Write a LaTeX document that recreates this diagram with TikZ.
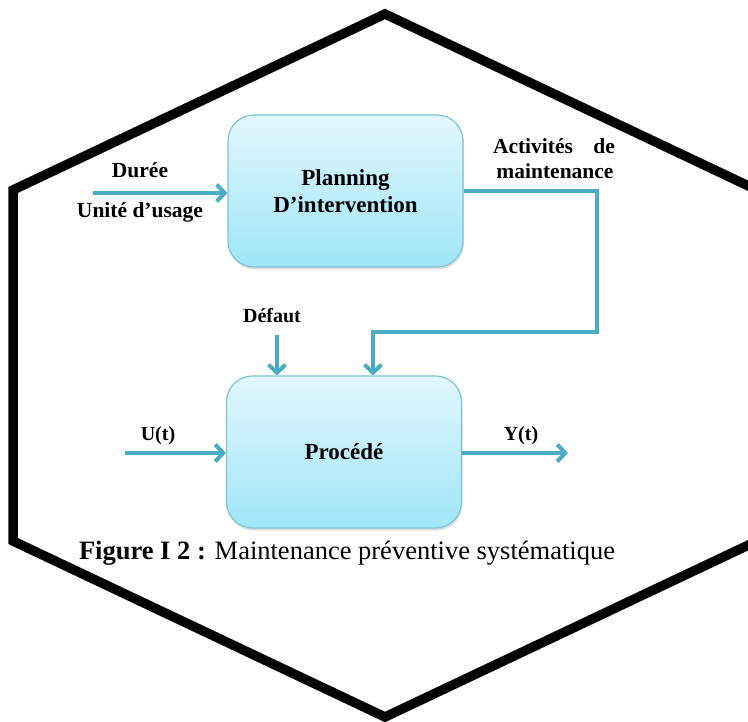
\documentclass[tikz,border=0pt]{standalone}
\usepackage{fontspec}
\setmainfont{Liberation Serif}
\usetikzlibrary{arrows.meta,shadows}
\definecolor{arr}{HTML}{4BACC6}
\definecolor{boxtop}{HTML}{E2F7FD}
\definecolor{boxbot}{HTML}{9FE6F9}
\definecolor{boxline}{HTML}{7CC5DA}
\tikzset{
  procbox/.style={rectangle, rounded corners=26pt, minimum width=235pt, minimum height=152pt,
    top color=boxtop, bottom color=boxbot, draw=boxline, line width=1.2pt,
    drop shadow={opacity=0.25, shadow xshift=1pt, shadow yshift=-2.5pt},
    align=center, font=\fontsize{23}{27}\selectfont\bfseries},
  flow/.style={draw=arr, line width=4pt, line join=miter},
  flowarrow/.style={flow, -{Straight Barb[length=8pt,width=17pt]}},
  lab/.style={font=\fontsize{21.5}{25}\selectfont\bfseries, inner sep=0pt},
  slab/.style={font=\fontsize{20}{24}\selectfont\bfseries, inner sep=0pt},
  hexa/.style={draw=black, line width=9.5pt, line join=miter}
}
\begin{document}
\begin{tikzpicture}[x=1pt,y=-1pt]
\useasboundingbox (0,0) rectangle (748,722);
\fill[white] (0,0) rectangle (748,722);
% hexagon frame
\draw[hexa] (385,14) -- (757,190) -- (757,541) -- (385,717) -- (13,541) -- (13,190) -- cycle;
% boxes
\node[procbox] (plan) at (345.5,191) {Planning\\D’intervention};
\node[procbox] (proc) at (344,452) {Procédé};
% labels
\node[lab] (dur) at (140,170) {Durée};
\node[lab] (unit) at (140,212) {Unité d’usage};
\node[lab] (act1) at (554,146) {\makebox[122pt][s]{Activités de}};
\node[lab] (act2) at (555,171) {maintenance};
\node[slab] (def) at (272,316) {Défaut};
\node[slab] (ut) at (158,436) {U(t)};
\node[slab] (yt) at (521,436) {Y(t)};
% connectors
\coordinate (durS) at (93,193);
\draw[flowarrow] (durS) -- (durS -| plan.west);
\coordinate (c1) at (597,191);
\coordinate (c3) at (373,332);
\draw[flowarrow] (plan.east |- c1) -- (c1) |- (c3) -- (c3 |- proc.north);
\coordinate (defS) at (277,335);
\draw[flowarrow] (defS) -- (defS |- proc.north);
\coordinate (uS) at (125,453);
\draw[flowarrow] (uS) -- (uS -| proc.west);
\coordinate (yE) at (568,453);
\draw[flowarrow] (proc.east |- yE) -- (yE);
% caption
\node[inner sep=0pt, font=\fontsize{26.5}{30}\selectfont] (cap) at (347,553) {\textbf{Figure I 2 :} Maintenance préventive systématique};
\end{tikzpicture}
\end{document}
